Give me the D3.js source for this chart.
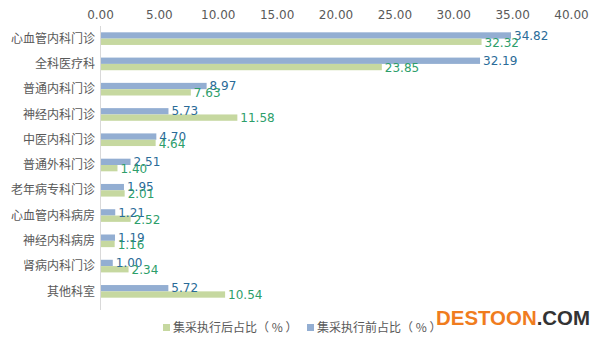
<!DOCTYPE html>
<html><head><meta charset="utf-8">
<script src="https://cdn.jsdelivr.net/npm/d3@7/dist/d3.min.js"></script>
<style>body{margin:0;background:#fff;}svg{display:block;}</style>
</head><body>
<script>
const categories = ["心血管内科门诊","全科医疗科","普通内科门诊","神经内科门诊","中医内科门诊","普通外科门诊","老年病专科门诊","心血管内科病房","神经内科病房","肾病内科门诊","其他科室"];
const beforeValues = [34.82,32.19,8.97,5.73,4.70,2.51,1.95,1.21,1.19,1.00,5.72];
const afterValues = [32.32,23.85,7.63,11.58,4.64,1.40,2.01,2.52,1.16,2.34,10.54];
const tickValues = [0,5,10,15,20,25,30,35,40];
const seriesNames = ["集采执行后占比（ % ）","集采执行前占比（ % ）"];

const W=605,H=340;
const svg=d3.select("body").append("svg").attr("width",W).attr("height",H);
const font="'Noto Sans CJK SC','DejaVu Sans',sans-serif";
const x=d3.scaleLinear().domain([0,40]).range([100,571]);
const y=d3.scaleBand().domain(categories).range([26,304]).paddingInner(0.5).paddingOuter(0.25);
const blue="#93aed2", green="#c6d8a0", blueTxt="#2a6b98", greenTxt="#2d9e6a";

const ax=svg.append("g").attr("transform","translate(0,26)")
  .call(d3.axisTop(x).tickValues(tickValues).tickFormat(d3.format(".2f")).tickSize(0).tickPadding(7));
ax.select(".domain").remove();
ax.selectAll("text").attr("font-family","'DejaVu Sans',sans-serif").attr("font-size",12).attr("fill","#595959");

svg.append("line").attr("x1",100.5).attr("x2",100.5).attr("y1",26).attr("y2",310).attr("stroke","#d9d9d9");

const bh=y.bandwidth()/2;
const g=svg.append("g");
categories.forEach((c,i)=>{
  const y0=y(c);
  g.append("rect").attr("x",x(0)+1).attr("y",y0).attr("width",x(beforeValues[i])-x(0)).attr("height",bh).attr("fill",blue);
  g.append("rect").attr("x",x(0)+1).attr("y",y0+bh).attr("width",x(afterValues[i])-x(0)).attr("height",bh).attr("fill",green);
  g.append("text").attr("x",x(beforeValues[i])+4).attr("y",y0+bh/2).attr("dy","0.35em")
    .attr("font-family","'DejaVu Sans',sans-serif").attr("font-size",12).attr("fill",blueTxt).text(beforeValues[i].toFixed(2));
  g.append("text").attr("x",x(afterValues[i])+4).attr("y",y0+bh*1.5).attr("dy","0.4em")
    .attr("font-family","'DejaVu Sans',sans-serif").attr("font-size",12).attr("fill",greenTxt).text(afterValues[i].toFixed(2));
  g.append("text").attr("x",95).attr("y",y0+bh).attr("dy","0.35em").attr("text-anchor","end")
    .attr("font-family",font).attr("font-size",12).attr("fill","#595959").text(c);
});

// legend
const lg=svg.append("g");
const lx=[163,307];
[green,blue].forEach((col,i)=>{
  lg.append("rect").attr("x",lx[i]).attr("y",324).attr("width",7).attr("height",7).attr("fill",col);
  lg.append("text").attr("x",lx[i]+10).attr("y",328).attr("dy","0.35em").attr("xml:space","preserve")
    .attr("font-family",font).attr("font-size",12).attr("fill","#595959").text(seriesNames[i]);
});

// watermark
const wm=svg.append("text").attr("x",436).attr("y",325).attr("font-family","'Liberation Sans',Arial,sans-serif")
  .attr("font-weight","bold").attr("font-size",21).attr("textLength",154).attr("lengthAdjust","spacingAndGlyphs");
wm.append("tspan").attr("fill","#f07c1e").text("DESTOON");
wm.append("tspan").attr("fill","#333").text(".COM");
</script>
</body></html>
